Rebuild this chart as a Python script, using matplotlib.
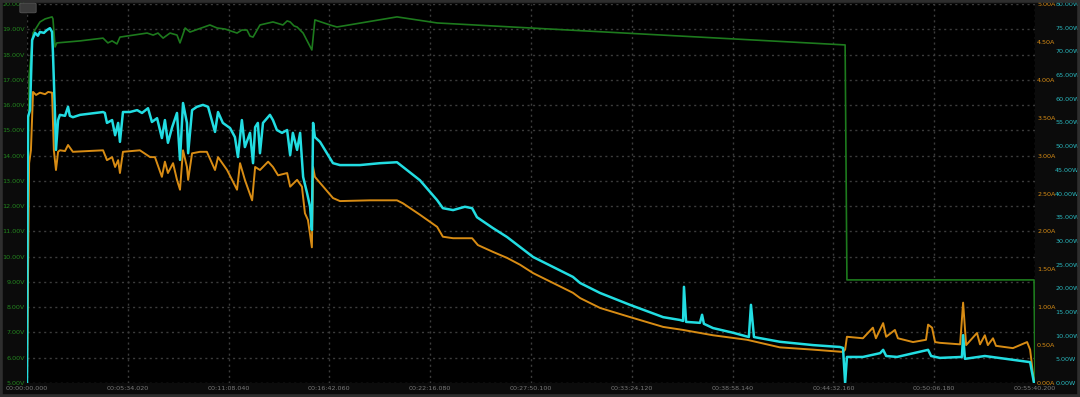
import matplotlib
matplotlib.use("Agg")
import matplotlib.pyplot as plt
from matplotlib.patches import Rectangle, FancyBboxPatch

# time in seconds
t_v = [0, 7, 20, 43, 60, 83, 86, 93, 99, 176, 252, 268, 282, 298, 308, 398, 418, 434,
       451, 474, 497, 507, 524, 540, 606, 630, 656, 696, 712, 729, 739, 749, 772, 815,
       848, 862, 872, 885, 895, 915, 944, 954, 1004, 1027, 1226, 1359, 2711, 2717, 3337, 3340]
volts = [5.0, 17.19, 18.85, 19.29, 19.41, 19.49, 19.41, 18.30, 18.46, 18.54, 18.65, 18.46,
         18.54, 18.42, 18.69, 18.85, 18.77, 18.85, 18.65, 18.85, 18.77, 18.46, 19.05, 18.89,
         19.17, 19.05, 19.01, 18.85, 18.97, 18.97, 18.73, 18.69, 19.17, 19.29, 19.17, 19.33,
         19.29, 19.13, 19.09, 18.85, 18.18, 19.37, 19.17, 19.09, 19.49, 19.25, 18.38, 9.08,
         9.08, 5.0]

t_w = [0, 3, 10, 17, 27, 36, 43, 56, 66, 76, 83, 86, 93, 96, 103, 109, 126, 136, 142, 152,
       176, 202, 225, 252, 258, 265, 282, 292, 302, 308, 318, 341, 365, 381, 401, 414, 431,
       447, 457, 467, 481, 497, 507, 517, 530, 534, 547, 563, 583, 600, 623, 633, 649, 673,
       689, 699, 712, 722, 739, 749, 756, 765, 772, 782, 805, 815, 828, 845, 862, 872, 881,
       895, 905, 915, 928, 938, 944, 948, 954, 971, 1014, 1037, 1103, 1170, 1226, 1246,
       1302, 1359, 1378, 1412, 1451, 1475, 1491, 1544, 1591, 1634, 1677, 1743, 1809, 1833,
       1899, 1998, 2108, 2164, 2174, 2177, 2184, 2230, 2237, 2243, 2273, 2340, 2392, 2399,
       2409, 2495, 2605, 2694, 2704, 2711, 2717, 2770, 2827, 2837, 2847, 2883, 2986, 2996,
       3025, 3098, 3102, 3108, 3174, 3267, 3324, 3337]
watts = [0, 56.1, 57.6, 72.4, 73.9, 73.3, 74.1, 73.9, 74.5, 74.9, 74.1, 69.7, 56.1, 49.2,
         55.5, 56.6, 56.4, 58.3, 56.4, 56.1, 56.6, 56.8, 57.0, 57.2, 57.0, 54.9, 55.5, 52.3,
         54.9, 50.9, 57.2, 57.2, 57.6, 57.0, 58.0, 55.1, 55.9, 51.7, 55.5, 50.7, 54.0, 57.0,
         47.1, 59.1, 54.9, 48.5, 57.6, 58.3, 58.7, 58.3, 53.0, 57.2, 54.9, 53.8, 51.9, 47.7,
         55.5, 49.8, 52.8, 46.4, 54.0, 54.9, 48.5, 54.9, 56.6, 55.5, 53.4, 52.8, 53.4, 48.1,
         52.8, 49.2, 52.8, 43.5, 40.1, 37.2, 32.3, 54.9, 51.9, 50.9, 46.4, 46.0, 46.0, 46.4,
         46.6, 45.6, 42.8, 38.6, 36.9, 36.5, 37.2, 36.9, 35.0, 32.7, 30.8, 28.7, 26.6, 24.5,
         22.4, 21.1, 19.0, 16.5, 13.9, 13.3, 13.1, 20.3, 12.9, 12.7, 14.4, 12.5, 11.6, 10.6,
         9.7, 16.5, 9.7, 8.7, 8.0, 7.6, 7.4, 0.0, 5.5, 5.5, 6.3, 7.0, 5.7, 5.5, 7.0, 5.7, 5.3,
         5.5, 10.1, 5.1, 5.7, 4.9, 4.4, 0.0]

t_a = [0, 7, 13, 20, 30, 43, 60, 70, 83, 89, 96, 103, 109, 126, 136, 152, 202, 252, 265,
       282, 292, 302, 308, 318, 374, 408, 424, 447, 457, 467, 484, 497, 507, 517, 530, 534,
       547, 573, 596, 623, 633, 663, 696, 706, 722, 746, 756, 772, 799, 815, 832, 862, 872,
       895, 911, 921, 931, 944, 948, 954, 971, 1014, 1037, 1137, 1226, 1246, 1302, 1359,
       1378, 1412, 1475, 1494, 1544, 1591, 1634, 1677, 1743, 1809, 1833, 1899, 1998, 2108,
       2174, 2273, 2386, 2495, 2605, 2704, 2711, 2717, 2770, 2803, 2813, 2837, 2847, 2876,
       2886, 2936, 2979, 2986, 2999, 3009, 3025, 3092, 3102, 3112, 3148, 3158, 3174, 3184,
       3201, 3211, 3267, 3314, 3324, 3337]
amps = [0, 2.90, 3.07, 3.84, 3.80, 3.83, 3.81, 3.84, 3.83, 3.07, 2.81, 3.05, 3.07, 3.06,
        3.14, 3.05, 3.06, 3.07, 2.94, 2.98, 2.85, 2.94, 2.77, 3.05, 3.07, 2.98, 2.98, 2.72,
        2.92, 2.77, 2.90, 2.68, 2.55, 3.07, 2.85, 2.68, 3.03, 3.05, 3.05, 2.81, 2.98, 2.81,
        2.55, 2.90, 2.68, 2.41, 2.85, 2.81, 2.92, 2.85, 2.74, 2.77, 2.59, 2.68, 2.59, 2.24,
        2.15, 1.79, 2.85, 2.72, 2.64, 2.44, 2.40, 2.41, 2.41, 2.37, 2.22, 2.06, 1.93, 1.91,
        1.91, 1.82, 1.73, 1.65, 1.56, 1.45, 1.32, 1.19, 1.12, 0.99, 0.87, 0.74, 0.70, 0.63,
        0.57, 0.47, 0.44, 0.41, 0.44, 0.61, 0.59, 0.73, 0.59, 0.79, 0.61, 0.70, 0.59, 0.54,
        0.57, 0.77, 0.73, 0.54, 0.53, 0.51, 1.06, 0.50, 0.66, 0.51, 0.63, 0.50, 0.59, 0.49,
        0.46, 0.54, 0.44, 0.0]

x_ticks = [0, 334.02, 668.04, 1002.06, 1336.08, 1670.1, 2004.12, 2338.14, 2672.16, 3006.18, 3340.2]
x_labels = ['00:00:00.000', '00:05:34.020', '00:11:08.040', '00:16:42.060', '00:22:16.080',
            '00:27:50.100', '00:33:24.120', '00:38:58.140', '00:44:32.160', '00:50:06.180',
            '00:55:40.200']
v_ticks = [5, 6, 7, 8, 9, 10, 11, 12, 13, 14, 15, 16, 17, 18, 19, 20]
a_ticks = [0, 0.5, 1.0, 1.5, 2.0, 2.5, 3.0, 3.5, 4.0, 4.5, 5.0]
w_ticks = [0, 5, 10, 15, 20, 25, 30, 35, 40, 45, 50, 55, 60, 65, 70, 75, 80]

green = '#1d7a1d'
orange = '#d88c14'
cyan = '#22dde2'

fig = plt.figure(figsize=(10.8, 3.97), dpi=100, facecolor='#0b0b0b')
ax = fig.add_axes([27/1080, 14/397, 1008/1080, 379/397])
ax.set_facecolor('black')
ax_a = ax.twinx()
ax_w = ax.twinx()

ax.plot(t_v, volts, color=green, lw=1.2, zorder=3)
ax_a.plot(t_a, amps, color=orange, lw=1.4)
ax_w.plot(t_w, watts, color=cyan, lw=1.8)

ax.set_xlim(0, 3340.2)
ax.set_ylim(5, 20)
ax_a.set_ylim(0, 5)
ax_w.set_ylim(0, 80)

ax.set_xticks(x_ticks)
ax.set_xticklabels(x_labels)
ax.set_yticks(v_ticks)
ax.set_yticklabels(['%.2fV' % v for v in v_ticks])
ax_a.set_yticks(a_ticks)
ax_a.set_yticklabels(['%.2fA' % v for v in a_ticks])
ax_w.set_yticks(w_ticks)
ax_w.set_yticklabels(['%.2fW' % v for v in w_ticks])

ax.grid(True, color='#3c3c3c', linestyle=(0, (1.5, 2.5)), lw=1.0)
ax.set_axisbelow(True)

ax.tick_params(axis='x', length=0, pad=2, labelsize=4.6, labelcolor='#7a7a7a')
ax.tick_params(axis='y', length=0, pad=1.5, labelsize=4.6, labelcolor='#23861f')
ax_a.tick_params(axis='y', length=0, pad=1.5, labelsize=4.6, labelcolor=orange)
ax_w.tick_params(axis='y', length=0, pad=14.5, labelsize=4.6, labelcolor='#2ab8bf')

for a in (ax, ax_a, ax_w):
    for s in a.spines.values():
        s.set_visible(False)

# window frame and the little button in the corner
fig.patches.append(Rectangle((0, 0), 1, 1, transform=fig.transFigure, fill=False,
                             edgecolor='#2e2e2e', lw=4))
fig.patches.append(FancyBboxPatch((22/1080, 385/397), 12/1080, 8/397,
                                  boxstyle='round,pad=0.002', transform=fig.transFigure,
                                  facecolor='#3a3a3a', edgecolor='#555555', lw=0.6))

fig.savefig('out.png', dpi=100, facecolor=fig.get_facecolor())
